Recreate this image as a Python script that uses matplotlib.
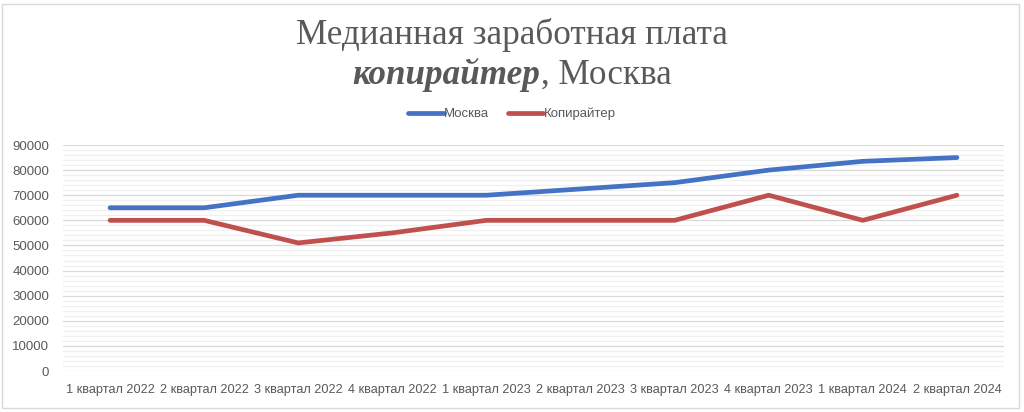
import matplotlib
matplotlib.use("Agg")
import matplotlib.pyplot as plt
from matplotlib.ticker import MultipleLocator
from matplotlib.offsetbox import TextArea, HPacker, AnchoredOffsetbox
from matplotlib.patches import Rectangle

categories = ["1 квартал 2022", "2 квартал 2022", "3 квартал 2022", "4 квартал 2022",
              "1 квартал 2023", "2 квартал 2023", "3 квартал 2023", "4 квартал 2023",
              "1 квартал 2024", "2 квартал 2024"]
moscow = [65000, 65000, 70000, 70000, 70000, 72500, 75000, 80000, 83500, 85000]
copywriter = [60000, 60000, 51000, 55000, 60000, 60000, 60000, 70000, 60000, 70000]
series_names = ["Москва", "Копирайтер"]

TXT = "#595959"
GRID = "#D9D9D9"
MINOR = "#F0F0F0"
TITLE_FONT = "Liberation Serif"

fig = plt.figure(figsize=(10.24, 4.12), dpi=100)
ax = fig.add_axes([63/1024, (412-371)/412, (1004-63)/1024, (371-145)/412])

x = list(range(len(categories)))
ax.plot(x, moscow, color="#4472C4", lw=3.4, solid_capstyle="round", solid_joinstyle="round", label=series_names[0])
ax.plot(x, copywriter, color="#C0504D", lw=3.4, solid_capstyle="round", solid_joinstyle="round", label=series_names[1])

ax.set_xlim(-0.5, len(categories) - 0.5)
ax.set_ylim(0, 90000)
ax.yaxis.set_major_locator(MultipleLocator(10000))
ax.yaxis.set_minor_locator(MultipleLocator(2000))
ax.grid(axis="y", which="major", color=GRID, lw=0.9)
ax.grid(axis="y", which="minor", color=MINOR, lw=0.9)
ax.set_axisbelow(True)
ax.set_xticks(x)
ax.set_xticklabels(categories)
for s in ax.spines.values():
    s.set_visible(False)
ax.tick_params(axis="both", which="both", length=0, colors=TXT)
ax.tick_params(axis="y", pad=10, labelsize=9.5)
ax.tick_params(axis="x", pad=9, labelsize=9.2)
for lab in ax.get_xticklabels() + ax.get_yticklabels():
    lab.set_family("Liberation Sans")

leg = fig.legend(loc="center", bbox_to_anchor=(512/1024, 1 - 114/412), ncol=2, frameon=False,
                 prop={"family": "Liberation Sans", "size": 9.5}, handlelength=2.7,
                 handletextpad=0.05, columnspacing=1.4)
for t in leg.get_texts():
    t.set_color(TXT)

fig.text(0.5, 1 - 35/412, "Медианная заработная плата", ha="center", va="center",
         fontsize=25.3, color=TXT, family=TITLE_FONT)
t1 = TextArea("копирайтер", textprops=dict(fontsize=25.3, color=TXT, family=TITLE_FONT,
                                             weight="bold", style="italic"))
t2 = TextArea(", Москва", textprops=dict(fontsize=25.3, color=TXT, family=TITLE_FONT))
box = HPacker(children=[t1, t2], align="baseline", pad=0, sep=0)
ab = AnchoredOffsetbox(loc="center", child=box, frameon=False, pad=0, borderpad=0,
                       bbox_to_anchor=(0.5, 1 - 75/412), bbox_transform=fig.transFigure)
fig.add_artist(ab)

fig.add_artist(Rectangle((2/1024, 4/412), 1017/1024, 404/412, transform=fig.transFigure,
                         fill=False, edgecolor=GRID, lw=1))

fig.savefig("out.png", dpi=100, facecolor="white")
